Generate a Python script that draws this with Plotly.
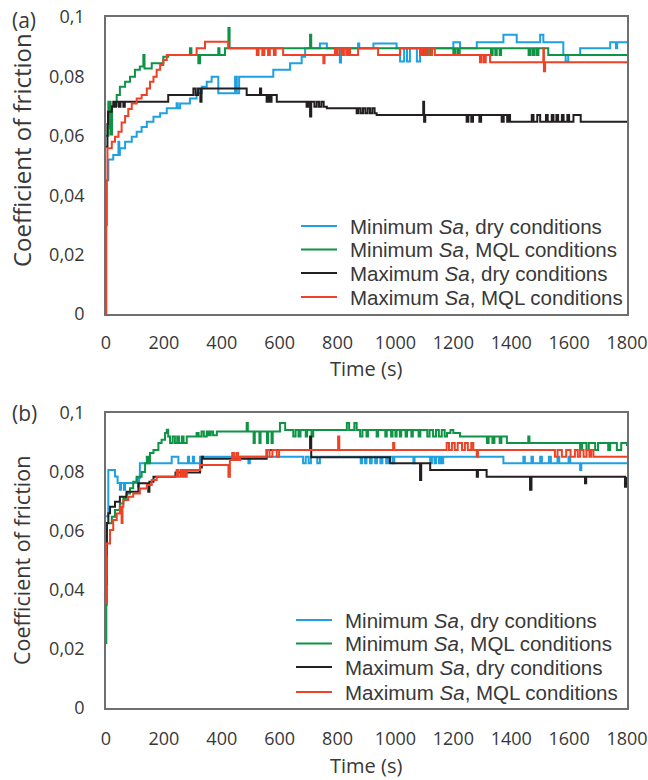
import plotly.graph_objects as go

# ---------------- data (time s, coefficient of friction) ----------------
series_names = ["Minimum <i>Sa</i>, dry conditions", "Minimum <i>Sa</i>, MQL conditions",
                "Maximum <i>Sa</i>, dry conditions", "Maximum <i>Sa</i>, MQL conditions"]
series_colors = ["#1ea0e1", "#0e9444", "#231f20", "#ee4226"]

x_ticks = [0, 200, 400, 600, 800, 1000, 1200, 1400, 1600, 1800]
y_ticks = [0, 0.02, 0.04, 0.06, 0.08, 0.1]
y_tick_text = ["0", "0,02", "0,04", "0,06", "0,08", "0,1"]

# Panel (a)
a_min_dry = [(0, 0.045), (8, 0.052), (25, 0.0535), (43, 0.058), (46, 0.0535), (48, 0.0558), (66, 0.058),
             (89, 0.0597), (106, 0.0614), (123, 0.063), (141, 0.0647), (164, 0.0664), (187, 0.0676),
             (210, 0.0693), (244, 0.071), (248, 0.0693), (256, 0.0709), (290, 0.0726), (313, 0.0743),
             (331, 0.0765), (348, 0.0782), (365, 0.0799), (388, 0.0743), (446, 0.0799), (452, 0.0743),
             (460, 0.0799), (578, 0.0822), (636, 0.0844), (676, 0.0866), (688, 0.0895), (739, 0.0911),
             (763, 0.0895), (808, 0.0847), (812, 0.0895), (871, 0.0911), (875, 0.0895), (924, 0.0911),
             (1004, 0.0895), (1016, 0.085), (1030, 0.0895), (1040, 0.085), (1050, 0.0895), (1074, 0.085),
             (1085, 0.0895), (1200, 0.0915), (1223, 0.0895), (1281, 0.0915), (1373, 0.094), (1419, 0.0915),
             (1500, 0.094), (1511, 0.0915), (1580, 0.0872), (1588, 0.085), (1597, 0.0872), (1638, 0.0895),
             (1742, 0.0915), (1762, 0.0895), (1766, 0.0915), (1800, 0.0915)]
a_min_mql = [(0, 0.060), (8, 0.0715), (12, 0.0626), (14, 0.0715), (16, 0.0604), (21, 0.070), (37, 0.0737),
             (48, 0.0765), (66, 0.0782), (83, 0.0799), (100, 0.0822), (117, 0.0833), (129, 0.0872),
             (133, 0.0827), (158, 0.0844), (198, 0.0866), (215, 0.0872), (290, 0.0895), (295, 0.0872),
             (319, 0.0844), (325, 0.0872), (388, 0.0895), (392, 0.0872), (411, 0.0895), (423, 0.0963),
             (427, 0.0895), (705, 0.094), (709, 0.0895), (1090, 0.0872), (1096, 0.0895), (1104, 0.0872),
             (1112, 0.0895), (1120, 0.0872), (1126, 0.0895), (1200, 0.0872), (1207, 0.0895), (1215, 0.0872),
             (1222, 0.0895), (1330, 0.0872), (1336, 0.0895), (1345, 0.0872), (1350, 0.0895), (1360, 0.0872),
             (1365, 0.0895), (1460, 0.0872), (1466, 0.0895), (1474, 0.0872), (1480, 0.0895), (1488, 0.0872),
             (1494, 0.0895), (1528, 0.0872), (1800, 0.0872)]
a_max_dry = [(0, 0.0563), (5, 0.064), (7, 0.0681), (20, 0.0698), (25, 0.0715), (30, 0.0698), (35, 0.0715),
             (45, 0.0698), (50, 0.0715), (60, 0.0698), (65, 0.0715), (215, 0.0737), (302, 0.0759),
             (310, 0.0737), (318, 0.0759), (326, 0.0715), (330, 0.0759), (486, 0.0737), (532, 0.0759),
             (536, 0.0737), (555, 0.0715), (560, 0.0737), (566, 0.0715), (572, 0.0737), (590, 0.0715),
             (693, 0.0698), (698, 0.0715), (705, 0.0665), (709, 0.0715), (720, 0.0698), (728, 0.0715),
             (736, 0.0698), (744, 0.0715), (752, 0.0698), (763, 0.0693), (866, 0.0676), (872, 0.0693),
             (880, 0.0676), (888, 0.0693), (896, 0.0676), (904, 0.0693), (912, 0.0676), (920, 0.0693),
             (928, 0.0676), (935, 0.067), (1096, 0.0715), (1099, 0.0647), (1103, 0.067), (1246, 0.0647),
             (1252, 0.067), (1262, 0.0647), (1268, 0.067), (1290, 0.0647), (1296, 0.067), (1367, 0.0647),
             (1374, 0.067), (1386, 0.0647), (1392, 0.067), (1396, 0.0647), (1471, 0.067), (1477, 0.0647),
             (1490, 0.067), (1500, 0.0647), (1520, 0.067), (1526, 0.0647), (1540, 0.067), (1546, 0.0647),
             (1556, 0.067), (1562, 0.0647), (1575, 0.067), (1581, 0.0647), (1594, 0.067), (1600, 0.0647),
             (1615, 0.067), (1640, 0.0647), (1800, 0.0647)]
a_max_mql = [(0, 0.0), (1, 0.03), (3, 0.045), (5, 0.0558), (20, 0.058), (31, 0.0597), (43, 0.0614),
             (54, 0.0645), (66, 0.0667), (77, 0.069), (89, 0.0709), (106, 0.0726), (123, 0.0737),
             (141, 0.0759), (152, 0.0782), (164, 0.0799), (175, 0.0822), (187, 0.0838), (198, 0.0855),
             (210, 0.0872), (313, 0.0895), (342, 0.0917), (423, 0.0895), (521, 0.0872), (527, 0.0895),
             (540, 0.0872), (547, 0.0895), (560, 0.0872), (566, 0.0895), (580, 0.0872), (586, 0.0895),
             (612, 0.0872), (751, 0.0844), (755, 0.0872), (791, 0.0895), (798, 0.0872), (806, 0.0895),
             (815, 0.0872), (822, 0.0895), (830, 0.0872), (836, 0.0895), (843, 0.0872), (871, 0.0895),
             (940, 0.0872), (1016, 0.0895), (1085, 0.0872), (1092, 0.0895), (1100, 0.0872), (1108, 0.0895),
             (1118, 0.0872), (1126, 0.0895), (1136, 0.0872), (1292, 0.0848), (1298, 0.0872), (1306, 0.0848),
             (1312, 0.0872), (1327, 0.0848), (1511, 0.0895), (1513, 0.0817), (1517, 0.0848), (1800, 0.0848)]

# Panel (b)
b_min_dry = [(0, 0.065), (8, 0.0807), (31, 0.0785), (40, 0.0763), (48, 0.074), (52, 0.0763), (62, 0.074),
             (66, 0.0763), (106, 0.078), (111, 0.075), (114, 0.078), (117, 0.083), (227, 0.0852), (250, 0.083),
             (283, 0.0852), (287, 0.083), (300, 0.0852), (304, 0.083), (325, 0.0852), (492, 0.083),
             (497, 0.0852), (681, 0.083), (690, 0.0852), (700, 0.083), (708, 0.0852), (730, 0.083),
             (739, 0.0852), (880, 0.083), (885, 0.0852), (895, 0.083), (900, 0.0852), (912, 0.083),
             (918, 0.0852), (930, 0.083), (936, 0.0852), (948, 0.083), (955, 0.0852), (968, 0.083),
             (975, 0.0852), (990, 0.083), (996, 0.0852), (1062, 0.083), (1066, 0.0852), (1120, 0.083),
             (1126, 0.0852), (1135, 0.083), (1140, 0.0852), (1150, 0.083), (1156, 0.0852), (1160, 0.083),
             (1165, 0.0852), (1373, 0.083), (1442, 0.0852), (1447, 0.083), (1470, 0.0852), (1475, 0.083),
             (1500, 0.0852), (1506, 0.083), (1530, 0.0852), (1537, 0.083), (1560, 0.0852), (1566, 0.083),
             (1598, 0.0852), (1604, 0.083), (1638, 0.0807), (1642, 0.083), (1800, 0.083)]
b_min_mql = [(0, 0.022), (1, 0.035), (3, 0.0626), (20, 0.0648), (31, 0.0671), (48, 0.0693), (60, 0.0711),
             (71, 0.0727), (83, 0.0745), (94, 0.0767), (106, 0.0784), (123, 0.080), (135, 0.083), (141, 0.0852),
             (146, 0.083), (152, 0.0864), (164, 0.0875), (181, 0.0898), (192, 0.0909), (204, 0.0932),
             (210, 0.0943), (215, 0.092), (221, 0.0898), (230, 0.092), (238, 0.0898), (246, 0.092),
             (252, 0.0898), (262, 0.092), (268, 0.0898), (279, 0.092), (313, 0.0932), (320, 0.092),
             (330, 0.0937), (338, 0.092), (348, 0.0937), (355, 0.0925), (362, 0.0937), (370, 0.0925),
             (383, 0.0937), (486, 0.0966), (490, 0.0937), (510, 0.0898), (514, 0.0937), (530, 0.0898),
             (534, 0.0937), (556, 0.0898), (560, 0.0937), (572, 0.0898), (576, 0.0937), (601, 0.0966),
             (619, 0.0942), (647, 0.092), (655, 0.0942), (665, 0.092), (672, 0.0942), (690, 0.092),
             (695, 0.0942), (710, 0.092), (716, 0.0942), (832, 0.0966), (840, 0.0942), (858, 0.0966),
             (866, 0.0942), (878, 0.092), (886, 0.0942), (900, 0.092), (905, 0.0942), (935, 0.092),
             (940, 0.0942), (965, 0.092), (970, 0.0942), (985, 0.092), (990, 0.0942), (1000, 0.092),
             (1004, 0.0942), (1015, 0.092), (1020, 0.0942), (1035, 0.092), (1040, 0.0942), (1055, 0.092),
             (1060, 0.0942), (1080, 0.092), (1086, 0.0942), (1110, 0.092), (1118, 0.0942), (1130, 0.092),
             (1140, 0.0942), (1150, 0.092), (1160, 0.0942), (1170, 0.092), (1178, 0.0932), (1190, 0.0942),
             (1200, 0.0932), (1223, 0.092), (1316, 0.0898), (1322, 0.092), (1335, 0.0898), (1342, 0.092),
             (1360, 0.0898), (1366, 0.092), (1385, 0.0898), (1459, 0.092), (1463, 0.0898), (1638, 0.0875),
             (1645, 0.0898), (1660, 0.0875), (1668, 0.0898), (1690, 0.0875), (1700, 0.0898), (1735, 0.0875),
             (1742, 0.0898), (1765, 0.0875), (1780, 0.0898), (1800, 0.0888)]
b_max_dry = [(0, 0.042), (1, 0.052), (3, 0.0627), (8, 0.066), (14, 0.0682), (31, 0.0699), (48, 0.0716),
             (71, 0.0733), (112, 0.0762), (146, 0.0733), (150, 0.0767), (164, 0.0784), (240, 0.0798),
             (325, 0.0815), (331, 0.0852), (335, 0.0845), (555, 0.0875), (705, 0.092), (709, 0.085),
             (981, 0.083), (1085, 0.0773), (1089, 0.083), (1120, 0.0807), (1281, 0.0784), (1285, 0.0807),
             (1315, 0.0784), (1465, 0.074), (1470, 0.0784), (1655, 0.0762), (1659, 0.0784), (1793, 0.075),
             (1800, 0.0784)]
b_max_mql = [(0, 0.0356), (1, 0.045), (2, 0.0558), (14, 0.0603), (25, 0.0637), (37, 0.0659), (48, 0.0682),
             (54, 0.0627), (57, 0.0682), (60, 0.0705), (77, 0.0716), (94, 0.0727), (117, 0.0744),
             (141, 0.0756), (158, 0.0773), (175, 0.0784), (244, 0.0807), (250, 0.0784), (258, 0.0807),
             (264, 0.0784), (270, 0.0807), (276, 0.0784), (279, 0.0807), (325, 0.0824), (423, 0.0784),
             (428, 0.0841), (436, 0.0864), (442, 0.0841), (450, 0.0864), (456, 0.0841), (463, 0.0852),
             (555, 0.0875), (565, 0.0852), (575, 0.0875), (590, 0.0852), (598, 0.0875), (802, 0.092),
             (806, 0.0875), (992, 0.0898), (996, 0.0875), (1177, 0.0898), (1185, 0.0875), (1195, 0.0898),
             (1205, 0.0875), (1215, 0.0898), (1230, 0.0875), (1240, 0.0898), (1250, 0.0875), (1262, 0.0898),
             (1269, 0.0875), (1281, 0.0852), (1285, 0.0875), (1551, 0.0852), (1560, 0.0875), (1575, 0.0852),
             (1590, 0.0875), (1605, 0.0852), (1620, 0.0875), (1630, 0.0852), (1638, 0.0875), (1650, 0.0852),
             (1660, 0.0875), (1670, 0.0852), (1676, 0.0875), (1684, 0.0852), (1800, 0.0852)]

panel_a = [a_min_dry, a_min_mql, a_max_dry, a_max_mql]
panel_b = [b_min_dry, b_min_mql, b_max_dry, b_max_mql]

# ---------------- layout geometry (pixels) ----------------
W, H = 648, 780
L, R, T, B = 106, 21, 17, 72
PW, PH = W - L - R, H - T - B


def px(x):
    return (x - L) / PW


def py(y):
    return (H - B - y) / PH


TOP_DOM = [py(314), 1.0]
BOT_DOM = [0.0, py(413)]

TICK_FONT = dict(family="Open Sans, Lato, sans-serif", size=18, color="#383838")
TITLE_FONT = "Open Sans, Lato, sans-serif"
LEG_FONT = dict(family="Liberation Sans, Arial, sans-serif", size=20.5, color="#383838")
FRAME = "#6f6f6f"

fig = go.Figure()
for panel, (xa, ya) in ((panel_a, ("x", "y")), (panel_b, ("x2", "y2"))):
    for name, color, pts in zip(series_names, series_colors, panel):
        t = [p[0] for p in pts]
        v = [p[1] for p in pts]
        fig.add_trace(go.Scatter(x=t, y=v, mode="lines", name=name, xaxis=xa, yaxis=ya,
                                 line=dict(color=color, width=2, shape="hv"), showlegend=False))

axis_common = dict(showline=True, mirror=True, linecolor=FRAME, linewidth=1.5, showgrid=False,
                   zeroline=False, ticks="", tickfont=TICK_FONT, ticklabeloverflow="allow")
fig.update_layout(
    width=W, height=H, margin=dict(l=L, r=R, t=T, b=B, autoexpand=False),
    paper_bgcolor="white", plot_bgcolor="white",
    xaxis=dict(domain=[0, 1], anchor="y", range=[0, 1800], tickvals=x_ticks, ticklabelstandoff=12, **axis_common),
    yaxis=dict(domain=TOP_DOM, anchor="x", range=[0, 0.1], tickvals=y_ticks, ticktext=y_tick_text,
               ticklabelstandoff=16, **axis_common),
    xaxis2=dict(domain=[0, 1], anchor="y2", range=[0, 1800], tickvals=x_ticks, ticklabelstandoff=14, **axis_common),
    yaxis2=dict(domain=BOT_DOM, anchor="x2", range=[0, 0.1], tickvals=y_ticks, ticktext=y_tick_text,
                ticklabelstandoff=16, **axis_common),
)

ann = []
# panel labels
ann.append(dict(text="(a)", x=px(24), y=py(20), font=dict(family=TITLE_FONT, size=21, color="#383838")))
ann.append(dict(text="(b)", x=px(24), y=py(413), font=dict(family=TITLE_FONT, size=21, color="#383838")))
# axis titles
ann.append(dict(text="Coefficient of friction", x=px(21), y=py(150), textangle=-90,
                font=dict(family=TITLE_FONT, size=24, color="#383838")))
ann.append(dict(text="Coefficient of friction", x=px(21), y=py(561), textangle=-90,
                font=dict(family=TITLE_FONT, size=21.5, color="#383838")))
ann.append(dict(text="Time (s)", x=px(366), y=py(368), font=dict(family=TITLE_FONT, size=20, color="#383838")))
ann.append(dict(text="Time (s)", x=px(366), y=py(766), font=dict(family=TITLE_FONT, size=20, color="#383838")))
for a in ann:
    a.update(xref="paper", yref="paper", showarrow=False, xanchor="center", yanchor="middle")

# manual legends
shapes = []
legend_specs = [((301, 337, 348), [226, 249.5, 273, 297]), ((296, 332, 343), [620, 643.5, 667, 692])]
for (x0, x1, xt), rows in legend_specs:
    for name, color, yr in zip(series_names, series_colors, rows):
        shapes.append(dict(type="line", xref="paper", yref="paper", x0=px(x0), x1=px(x1), y0=py(yr), y1=py(yr),
                           line=dict(color=color, width=2)))
        ann.append(dict(text=name, xref="paper", yref="paper", x=px(xt), y=py(yr), showarrow=False,
                        xanchor="left", yanchor="middle", font=LEG_FONT))

fig.update_layout(annotations=ann, shapes=shapes)
fig.write_html("out.html")
